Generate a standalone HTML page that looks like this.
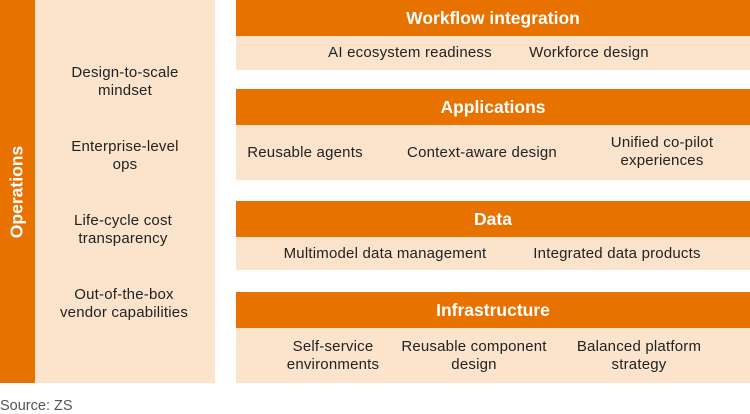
<!DOCTYPE html>
<html><head><meta charset="utf-8"><style>
body{margin:0;width:750px;height:413px;background:#fff;position:relative;overflow:hidden;font-family:"Liberation Sans","DejaVu Sans",sans-serif;color:#222}
.a{position:absolute}
.or{background:#E87200}
.pe{background:#FBE3CC}
.t{position:absolute;text-align:center;font-size:15px;line-height:18px;letter-spacing:0.2px;transform:translate(-50%,-50%);white-space:nowrap}
.h{position:absolute;left:236px;width:514px;height:36px;line-height:36px;text-align:center;color:#fff;font-weight:bold;font-size:17.5px;background:#E87200}
</style></head><body>
<div class="a or" style="left:0;top:0;width:35px;height:383px"></div>
<div class="a pe" style="left:35px;top:0;width:180px;height:383px"></div>
<div class="a" style="left:17px;top:192px;transform:translate(-50%,-50%) rotate(-90deg);color:#fff;font-weight:bold;font-size:17.5px;white-space:nowrap">Operations</div>
<div class="t" style="left:125px;top:82px">Design-to-scale<br>mindset</div>
<div class="t" style="left:125px;top:156px">Enterprise-level<br>ops</div>
<div class="t" style="left:123px;top:230px">Life-cycle cost<br>transparency</div>
<div class="t" style="left:124px;top:304px">Out-of-the-box<br>vendor capabilities</div>

<div class="h" style="top:0">Workflow integration</div>
<div class="a pe" style="left:236px;top:36px;width:514px;height:34px"></div>
<div class="t" style="left:410px;top:53px">AI ecosystem readiness</div>
<div class="t" style="left:589px;top:53px">Workforce design</div>

<div class="h" style="top:89px">Applications</div>
<div class="a pe" style="left:236px;top:125px;width:514px;height:55px"></div>
<div class="t" style="left:305px;top:153px">Reusable agents</div>
<div class="t" style="left:482px;top:153px">Context-aware design</div>
<div class="t" style="left:662px;top:152px">Unified co-pilot<br>experiences</div>

<div class="h" style="top:201px">Data</div>
<div class="a pe" style="left:236px;top:237px;width:514px;height:33px"></div>
<div class="t" style="left:385px;top:254px">Multimodel data management</div>
<div class="t" style="left:617px;top:254px">Integrated data products</div>

<div class="h" style="top:292px">Infrastructure</div>
<div class="a pe" style="left:236px;top:328px;width:514px;height:55px"></div>
<div class="t" style="left:333px;top:356px">Self-service<br>environments</div>
<div class="t" style="left:474px;top:356px">Reusable component<br>design</div>
<div class="t" style="left:639px;top:356px">Balanced platform<br>strategy</div>

<div class="a" style="left:0;top:398px;font-size:14.5px;color:#555">Source: ZS</div>
</body></html>
